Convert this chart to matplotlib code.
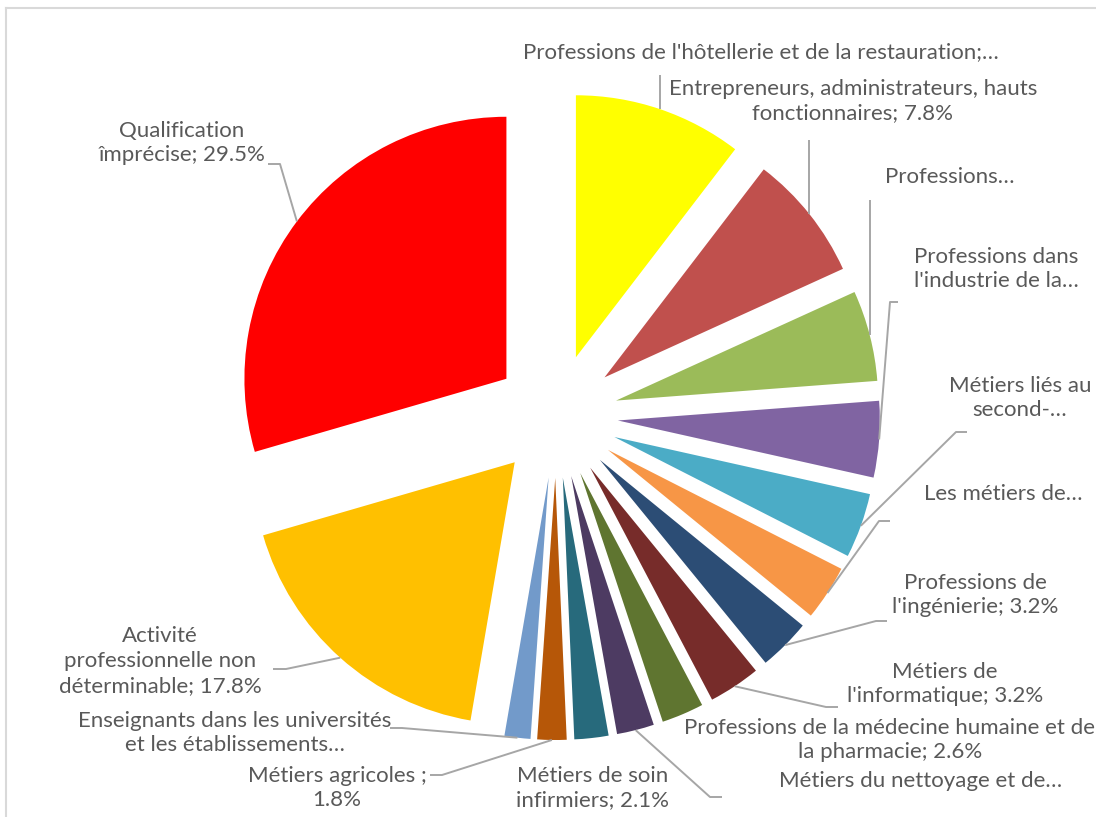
import matplotlib
matplotlib.use("Agg")
import matplotlib.pyplot as plt
from matplotlib.lines import Line2D
import numpy as np

# parts (%) clockwise from 12 o'clock
categories = [
    "Professions de l'hôtellerie et de la restauration",
    "Entrepreneurs, administrateurs, hauts fonctionnaires",
    "Professions...",
    "Professions dans l'industrie de la...",
    "Métiers liés au second-...",
    "Les métiers de...",
    "Professions de l'ingénierie",
    "Métiers de l'informatique",
    "Professions de la médecine humaine et de la pharmacie",
    "Métiers du nettoyage et de...",
    "Métiers de soin infirmiers",
    "Métiers agricoles",
    "Enseignants dans les universités et les établissements...",
    "Activité professionnelle non déterminable",
    "Qualification împrécise",
]
shares = [10.4, 7.8, 5.6, 4.7, 4.0, 3.4, 3.2, 3.2, 2.6, 2.3, 2.1, 1.8, 1.6, 17.8, 29.5]
label_texts = [
    "Professions de l'hôtellerie et de la restauration;…",
    "Entrepreneurs, administrateurs, hauts\nfonctionnaires; 7.8%",
    "Professions…",
    "Professions dans\nl'industrie de la…",
    "Métiers liés au\nsecond-…",
    "Les métiers de…",
    "Professions de\nl'ingénierie; 3.2%",
    "Métiers de\nl'informatique; 3.2%",
    "Professions de la médecine humaine et de\nla pharmacie; 2.6%",
    "Métiers du nettoyage et de…",
    "Métiers de soin\ninfirmiers; 2.1%",
    "Métiers agricoles ;\n1.8%",
    "Enseignants dans les universités\net les établissements…",
    "Activité\nprofessionnelle non\ndéterminable; 17.8%",
    "Qualification\nîmprécise; 29.5%",
]
colors = ['#FFFF00', '#C0504D', '#9BBB59', '#8064A2', '#4BACC6', '#F79646',
          '#2C4D75', '#772C2A', '#5F7530', '#4D3B62', '#276A7C', '#B65708',
          '#729ACA', '#FFC000', '#FF0000']

W, H = 1096, 817
fig = plt.figure(figsize=(W / 100, H / 100), dpi=100)
ax = fig.add_axes([0, 0, 1, 1])


def px(x, y):  # image pixels (y down) -> data
    return (x, H - y)


wedges, _ = ax.pie(shares, colors=colors, startangle=90, counterclock=False,
                   explode=[62] * len(shares), radius=262, center=px(556, 416),
                   wedgeprops=dict(linewidth=0))
ax.set_xlim(0, W)
ax.set_ylim(0, H)
ax.set_aspect('equal')
ax.axis('off')

# label layout: text centre + leader start (label side)
label_pos = [(761, 52), (853, 101), (950, 177), (996, 269), (1020, 398),
             (1003, 494), (975, 595), (945, 684), (890, 740), (921, 781),
             (593, 788), (337, 788), (235, 733), (160, 661), (182, 143)]
leaders = [('v', 75), ('v', 140), ('v', 200),
           [(898, 302), (890, 302)], [(967, 432), (956, 432)],
           [(890, 521), (879, 521)], [(887, 621), (876, 621)],
           [(838, 707), (826, 707)], None, [(722, 797), (710, 797)], None,
           [(430, 775), (442, 775)], [(390, 728), (402, 728)],
           [(273, 669), (286, 669)], [(268, 164), (280, 164)]]

txt_color = '#595959'
line_color = '#A6A6A6'
for w, txt, pos, ld in zip(wedges, label_texts, label_pos, leaders):
    ax.text(*px(*pos), txt, ha='center', va='center', multialignment='center',
            fontsize=16, color=txt_color, family=['Lato', 'DejaVu Sans'],
            linespacing=1.3)
    if ld is None:
        continue
    ang = np.deg2rad((w.theta1 + w.theta2) / 2)
    ax_, ay_ = w.center[0] + w.r * np.cos(ang), w.center[1] + w.r * np.sin(ang)
    if ld[0] == 'v':
        xs = [ax_, ax_]
        ys = [H - ld[1], ay_]
    else:
        pts = [px(*p) for p in ld]
        xs = [p[0] for p in pts] + [ax_]
        ys = [p[1] for p in pts] + [ay_]
    ax.plot(xs, ys, color=line_color, lw=1.4, solid_capstyle='butt')

# chart frame (light grey, partly cropped)
fig.add_artist(Line2D([6 / W, 6 / W], [0, 1 - 8 / H], color='#D9D9D9', lw=1.5))
fig.add_artist(Line2D([6 / W, 1], [1 - 8 / H, 1 - 8 / H], color='#D9D9D9', lw=1.5))

fig.savefig('out.png', dpi=100, facecolor='white')
